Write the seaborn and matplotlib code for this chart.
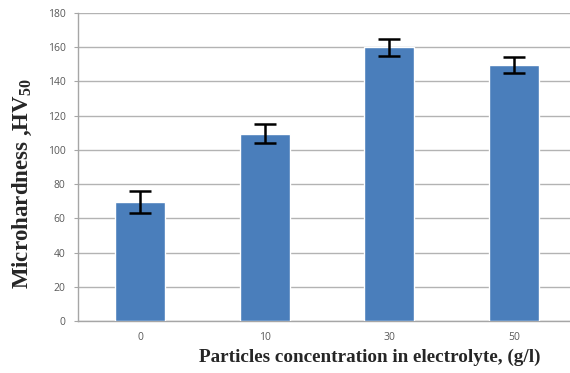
import numpy as np
import pandas as pd
import seaborn as sns
import matplotlib
matplotlib.use("Agg")
import matplotlib.pyplot as plt

# values
concentration = ["0", "10", "30", "50"]
hardness = [69.5, 109.5, 160, 149.5]
hardness_err = [6.5, 5.5, 5, 4.6]

df = pd.DataFrame({"conc": concentration, "hv": hardness})

sns.set_style("white")
plt.rcParams["mathtext.fontset"] = "custom"
plt.rcParams["mathtext.rm"] = "Liberation Serif"
plt.rcParams["mathtext.bf"] = "Liberation Serif:bold"

fig = plt.figure(figsize=(5.7, 3.73), dpi=100)
ax = fig.add_axes([78 / 570, 1 - 321 / 373, (576 - 78) / 570, (321 - 13) / 373])

sns.barplot(data=df, x="conc", y="hv", color="#4a7ebb", saturation=1,
            width=0.4, errorbar=None, ax=ax, zorder=3)
ax.errorbar(np.arange(len(hardness)), hardness, yerr=hardness_err, fmt="none",
            ecolor="black", elinewidth=1.8, capsize=8, capthick=1.8, zorder=4)

ax.set_xlim(-0.5, 3.5)
ax.set_ylim(0, 180)
ax.set_yticks(range(0, 181, 20))
ax.yaxis.grid(True, color="#b3b3b3", linewidth=1.0, zorder=0)
ax.set_axisbelow(True)

for side in ["top", "right"]:
    ax.spines[side].set_visible(False)
for side in ["left", "bottom"]:
    ax.spines[side].set_color("#a6a6a6")
    ax.spines[side].set_linewidth(1.0)

ax.set_xticks(np.arange(-0.5, 4, 1), minor=True)
ax.tick_params(axis="x", which="major", length=0, pad=8, labelsize=7.5, labelcolor="#595959")
ax.tick_params(axis="x", which="minor", length=3, color="#a6a6a6", direction="out")
ax.tick_params(axis="y", length=3, color="#a6a6a6", pad=6, labelsize=7.5, labelcolor="#595959",
               direction="out", left=True)
for lab in ax.get_xticklabels() + ax.get_yticklabels():
    lab.set_family("Open Sans")

ax.set_xlabel("")
ax.set_ylabel("")
fig.text(370 / 570, 1 - 357 / 373, "Particles concentration in electrolyte, (g/l)",
         ha="center", va="center", fontsize=13.8, fontweight="bold", family="Liberation Serif")
fig.text(22 / 570, 1 - 184 / 373, r"Microhardness ,HV$_{\mathbf{50}}$",
         ha="center", va="center", rotation=90, fontsize=16.5, fontweight="bold",
         family="Liberation Serif")

fig.savefig("out.png", dpi=100)
